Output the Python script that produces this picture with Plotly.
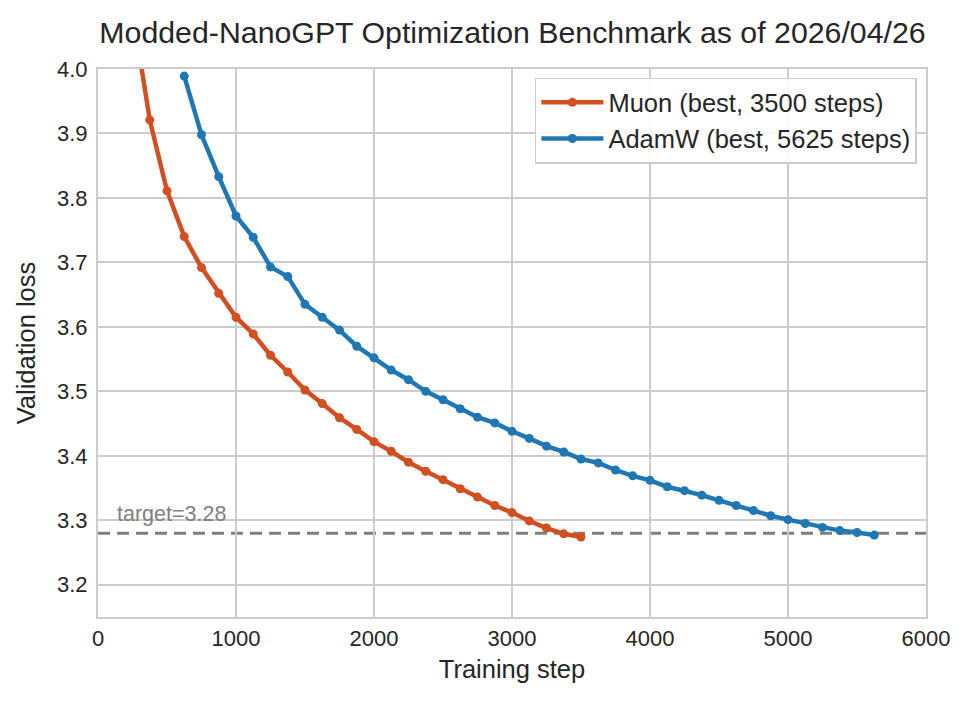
import plotly.graph_objects as go

muon_steps = [250, 375, 500, 625, 750, 875, 1000, 1125, 1250, 1375, 1500, 1625, 1750, 1875,
              2000, 2125, 2250, 2375, 2500, 2625, 2750, 2875, 3000, 3125, 3250, 3375, 3500]
muon_loss = [4.09, 3.921, 3.811, 3.740, 3.692, 3.652, 3.615, 3.589, 3.556, 3.530, 3.502, 3.481,
             3.459, 3.441, 3.422, 3.407, 3.390, 3.376, 3.363, 3.349, 3.336, 3.323, 3.312,
             3.299, 3.288, 3.279, 3.274]

adam_steps = [625, 750, 875, 1000, 1125, 1250, 1375, 1500, 1625, 1750, 1875, 2000, 2125, 2250,
              2375, 2500, 2625, 2750, 2875, 3000, 3125, 3250, 3375, 3500, 3625, 3750, 3875,
              4000, 4125, 4250, 4375, 4500, 4625, 4750, 4875, 5000, 5125, 5250, 5375, 5500, 5625]
adam_loss = [3.989, 3.898, 3.833, 3.772, 3.739, 3.693, 3.678, 3.635, 3.615, 3.595, 3.570, 3.552,
             3.533, 3.518, 3.500, 3.487, 3.473, 3.460, 3.451, 3.438, 3.427, 3.415, 3.406, 3.395,
             3.389, 3.378, 3.369, 3.362, 3.352, 3.346, 3.339, 3.331, 3.323, 3.315, 3.307,
             3.301, 3.295, 3.289, 3.284, 3.281, 3.277]

target = 3.28
x_ticks = [0, 1000, 2000, 3000, 4000, 5000, 6000]
y_ticks = [3.2, 3.3, 3.4, 3.5, 3.6, 3.7, 3.8, 3.9, 4.0]

MUON_C = "#D14F21"
ADAM_C = "#1F77B4"
FONT = "Liberation Sans, Arial, sans-serif"
TXT = "#262626"

fig = go.Figure()
fig.add_trace(go.Scatter(x=muon_steps, y=muon_loss, mode="lines+markers",
                         name="Muon (best, 3500 steps)",
                         line=dict(color=MUON_C, width=4.5),
                         marker=dict(color=MUON_C, size=9)))
fig.add_trace(go.Scatter(x=adam_steps, y=adam_loss, mode="lines+markers",
                         name="AdamW (best, 5625 steps)",
                         line=dict(color=ADAM_C, width=4.5),
                         marker=dict(color=ADAM_C, size=9)))

fig.add_shape(type="line", xref="paper", yref="y", x0=0, x1=1, y0=target, y1=target,
              line=dict(color="#808080", width=3, dash="12px,7px"), layer="below")
fig.add_annotation(x=120, y=target + 0.008, xref="x", yref="y", text="target=3.28",
                   showarrow=False, xanchor="left", yanchor="bottom",
                   font=dict(family=FONT, size=21.5, color="#808080"))

axis_common = dict(showgrid=True, gridcolor="#cccccc", gridwidth=1.5,
                   showline=True, linecolor="#cccccc", linewidth=2, mirror=True,
                   zeroline=False, ticks="outside", tickcolor="rgba(0,0,0,0)",
                   tickfont=dict(family=FONT, size=22, color=TXT))

fig.update_xaxes(range=[0, 6000], tickvals=x_ticks, ticktext=[str(v) for v in x_ticks],
                 ticklen=1,
                 title=dict(text="Training step", font=dict(family=FONT, size=25.5, color=TXT),
                            standoff=10),
                 **axis_common)
fig.update_yaxes(range=[3.15, 4.0], tickvals=y_ticks, ticktext=[f"{v:.1f}" for v in y_ticks],
                 ticklen=4,
                 title=dict(text="Validation loss", font=dict(family=FONT, size=25.5, color=TXT),
                            standoff=14),
                 **axis_common)

fig.update_layout(
    width=972, height=703,
    margin=dict(l=90, r=54, t=61, b=94),
    paper_bgcolor="white", plot_bgcolor="white",
    title=dict(text="Modded-NanoGPT Optimization Benchmark as of 2026/04/26",
               x=504.5 / 972, xanchor="center", y=1 - 24 / 703, yanchor="middle",
               font=dict(family=FONT, size=30.3, color=TXT)),
    legend=dict(x=0.989, xanchor="right", y=0.984, yanchor="top",
                bgcolor="rgba(255,255,255,0.85)", bordercolor="#cccccc", borderwidth=1.5,
                font=dict(family=FONT, size=25.5, color=TXT),
                itemwidth=62),
    showlegend=True,
)

fig.write_html("out.html")
